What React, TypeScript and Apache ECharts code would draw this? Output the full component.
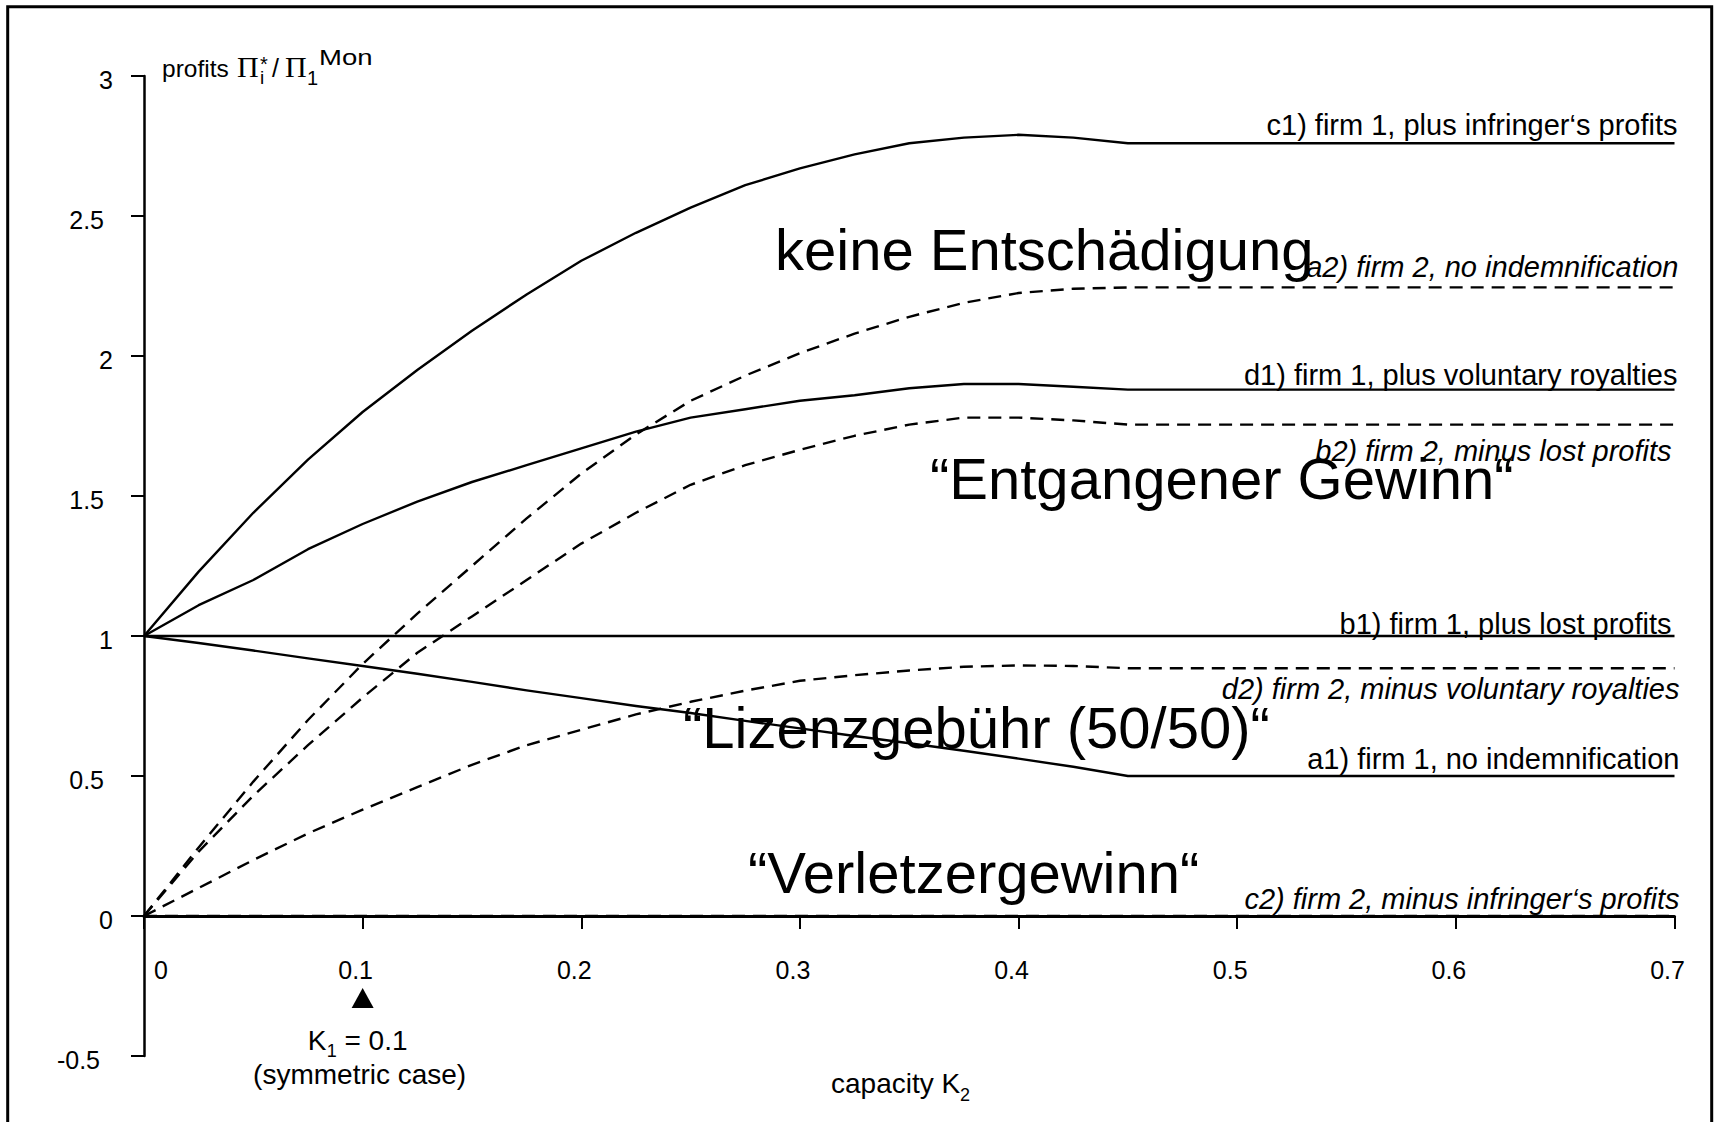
import React, { useEffect, useRef } from 'react';
import * as echarts from 'echarts';

// ---------- data ----------
const K2 = [0, 0.025, 0.05, 0.075, 0.1, 0.125, 0.15, 0.175, 0.2, 0.225, 0.25, 0.275, 0.3, 0.325, 0.35, 0.375, 0.4, 0.425, 0.45, 0.5, 0.55, 0.6, 0.65, 0.7];

const C1 = [1.0, 1.23, 1.44, 1.63, 1.8, 1.95, 2.09, 2.22, 2.34, 2.44, 2.53, 2.61, 2.67, 2.72, 2.76, 2.78, 2.79, 2.78, 2.76, 2.76, 2.76, 2.76, 2.76, 2.76];
const A2 = [0, 0.245, 0.48, 0.7, 0.9, 1.08, 1.25, 1.42, 1.58, 1.72, 1.84, 1.93, 2.01, 2.08, 2.14, 2.19, 2.225, 2.24, 2.245, 2.245, 2.245, 2.245, 2.245, 2.245];
const D1 = [1.0, 1.11, 1.2, 1.31, 1.4, 1.48, 1.55, 1.61, 1.67, 1.73, 1.78, 1.81, 1.84, 1.86, 1.885, 1.9, 1.9, 1.89, 1.88, 1.88, 1.88, 1.88, 1.88, 1.88];
const B2 = [0, 0.23, 0.43, 0.61, 0.78, 0.94, 1.07, 1.2, 1.33, 1.44, 1.54, 1.61, 1.665, 1.715, 1.755, 1.78, 1.78, 1.77, 1.755, 1.755, 1.755, 1.755, 1.755, 1.755];
const B1 = [1, 1, 1, 1, 1, 1, 1, 1, 1, 1, 1, 1, 1, 1, 1, 1, 1, 1, 1, 1, 1, 1, 1, 1];
const D2 = [0, 0.1, 0.2, 0.295, 0.38, 0.46, 0.54, 0.61, 0.665, 0.72, 0.765, 0.805, 0.84, 0.86, 0.877, 0.89, 0.895, 0.893, 0.885, 0.885, 0.885, 0.885, 0.885, 0.885];
const A1 = [1.0, 0.975, 0.948, 0.92, 0.893, 0.865, 0.836, 0.806, 0.778, 0.75, 0.725, 0.697, 0.67, 0.643, 0.617, 0.59, 0.562, 0.533, 0.5, 0.5, 0.5, 0.5, 0.5, 0.5];
const C2 = [0, 0, 0, 0, 0, 0, 0, 0, 0, 0, 0, 0, 0, 0, 0, 0, 0, 0, 0, 0, 0, 0, 0, 0];

const CURVE_NAMES = ['c1', 'a2', 'd1', 'b2', 'b1', 'd2', 'a1', 'c2'];
const CURVE_LABELS = [
  'c1) firm 1, plus infringer\u2018s profits',
  'a2) firm 2, no indemnification',
  'd1) firm 1, plus voluntary royalties',
  'b2) firm 2, minus lost profits',
  'b1) firm 1, plus lost profits',
  'd2) firm 2, minus voluntary royalties',
  'a1) firm 1, no indemnification',
  'c2) firm 2, minus infringer\u2018s profits',
];
const CURVE_VALUES = [C1, A2, D1, B2, B1, D2, A1, C2];
const FIRM2 = [false, true, false, true, false, true, false, true];

const REGION_TEXTS = ['keine Entsch\u00e4digung', '\u201cEntgangener Gewinn\u201c', '\u201cLizenzgeb\u00fchr (50/50)\u201c', '\u201cVerletzergewinn\u201c'];

const X_TICKS = [0, 0.1, 0.2, 0.3, 0.4, 0.5, 0.6, 0.7];
const X_TICK_LABELS = ['0', '0.1', '0.2', '0.3', '0.4', '0.5', '0.6', '0.7'];
const X_MIN = 0, X_MAX = 0.7, X_STEP = 0.1;
const Y_MIN = -0.5, Y_MAX = 3, Y_STEP = 0.5;
const K1 = 0.1;

// ---------- styling ----------
const SANS = '"Liberation Sans", Arial, Helvetica, sans-serif';
const SERIF = '"Liberation Serif", "Times New Roman", serif';
const LABEL_OFFSETS: Record<string, [number, number]> = {
  c1: [3, -18.7], a2: [4, -20.7], d1: [3, -15], b2: [-3, 26.4],
  b1: [-3, -12.4], d2: [5, 21], a1: [5, -17.3], c2: [5, -16.7],
};
const REGION_POS: [number, number][] = [[775, 249], [930, 478], [683, 727], [748, 872]];

function txt(text: string, x: number, y: number, size: number, opts: any = {}) {
  const align = opts.align || 'left';
  const el: any = {
    type: 'text', x, y, z: 20, silent: true,
    style: {
      text, fill: '#000',
      font: `${opts.italic ? 'italic ' : ''}${size}px ${opts.family || SANS}`,
      textAlign: align, textVerticalAlign: 'middle',
      align, verticalAlign: 'middle',
    },
  };
  if (opts.scaleX) el.scaleX = opts.scaleX;
  return el;
}

export default function App() {
  const ref = useRef<HTMLDivElement>(null);
  useEffect(() => {
    const el = ref.current!;
    const chart = echarts.init(el, null, { renderer: 'svg' });
    const tickFont = { fontFamily: SANS, fontSize: 25, color: '#000' };
    chart.setOption({
      animation: false,
      backgroundColor: '#fff',
      grid: { left: 144, right: 40.5, top: 76, bottom: 66, containLabel: false },
      xAxis: {
        type: 'value', min: X_MIN, max: X_MAX, interval: X_STEP,
        axisLine: { show: true, onZero: true, lineStyle: { color: '#000', width: 3 } },
        axisTick: { show: true, length: 13, lineStyle: { color: '#000', width: 2 } },
        splitLine: { show: false },
        axisLabel: { show: false },
      },
      yAxis: {
        type: 'value', min: Y_MIN, max: Y_MAX, interval: Y_STEP,
        axisLine: { show: true, onZero: false, lineStyle: { color: '#000', width: 2.5 } },
        axisTick: { show: true, length: 13, lineStyle: { color: '#000', width: 2 } },
        splitLine: { show: false },
        axisLabel: {
          margin: 31, ...tickFont,
          formatter: (v: number) => {
            const r = Math.round(v * 10) / 10;
            const s = String(r);
            if (r < 0) return `{m|${s}}`;
            return s.indexOf('.') >= 0 ? `{d|${s}}` : `{i|${s}}`;
          },
          rich: {
            i: { ...tickFont, padding: [8, 0, 0, 0] },
            d: { ...tickFont, padding: [8, 9, 0, 0] },
            m: { ...tickFont, padding: [8, 13, 0, 0] },
          },
        },
      },
      series: [
        ...CURVE_NAMES.map((name, idx) => ({
          type: 'line', name, silent: true,
          data: K2.map((k, i) => [k, CURVE_VALUES[idx][i]]),
          symbol: 'none', showSymbol: false,
          smooth: false,
          lineStyle: { color: '#000', width: 2.4, type: FIRM2[idx] ? [13, 8] : 'solid', join: 'round' },
          z: 3,
        })),
        {
          type: 'scatter', silent: true, data: [[K1, 0]],
          symbol: 'triangle', symbolSize: [22, 20], symbolOffset: [0, 82],
          itemStyle: { color: '#000', opacity: 1 }, z: 4,
        },
      ],
    });

    const px = (x: number, y: number) => chart.convertToPixel({ gridIndex: 0 }, [x, y]) as number[];
    const g: any[] = [];
    // frame
    g.push({ type: 'rect', silent: true, z: 1, shape: { x: 7.7, y: 6.7, width: 1704, height: 1200 }, style: { fill: 'none', stroke: '#000', lineWidth: 3 } });
    // x tick labels (below the zero line)
    X_TICKS.forEach((v, i) => {
      const p = px(v, 0);
      g.push(txt(X_TICK_LABELS[i], p[0] + (v === 0 ? 17 : -7), p[1] + 54, 25, { align: 'center' }));
    });
    // curve labels
    CURVE_NAMES.forEach((name, idx) => {
      const vals = CURVE_VALUES[idx];
      const p = px(X_MAX, vals[vals.length - 1]);
      const [dx, dy] = LABEL_OFFSETS[name];
      g.push(txt(CURVE_LABELS[idx], p[0] + dx, p[1] + dy, 29, { align: 'right', italic: FIRM2[idx] }));
    });
    // region texts
    REGION_TEXTS.forEach((t, i) => g.push(txt(t, REGION_POS[i][0], REGION_POS[i][1], 58)));
    // y axis title: profits Πi* / Π1Mon
    g.push(txt('profits', 162, 68, 24.5));
    g.push(txt('\u03a0', 237, 66.5, 30, { family: SERIF }));
    g.push(txt('i', 260, 77.4, 19));
    g.push(txt('*', 260, 64.4, 20));
    g.push(txt('/', 272, 68.3, 25));
    g.push(txt('\u03a0', 285, 66.5, 30, { family: SERIF }));
    g.push(txt('1', 307, 78, 20));
    g.push(txt('Mon', 319, 57.2, 22, { scaleX: 1.25 }));
    // K1 annotation
    const k1 = px(K1, 0);
    g.push(txt('K', k1[0] - 55, 1040, 28));
    g.push(txt('1', k1[0] - 36, 1051, 18));
    g.push(txt(' = 0.1', k1[0] - 26, 1040, 28));
    g.push(txt('(symmetric case)', k1[0] - 3, 1074, 28, { align: 'center' }));
    // x axis title
    g.push(txt('capacity K', 831, 1083, 28));
    g.push(txt('2', 960, 1095, 18));
    chart.setOption({ graphic: g });
    return () => chart.dispose();
  }, []);
  return <div ref={ref} style={{ position: 'fixed', left: 0, top: 0, width: 1715, height: 1122, background: '#fff' }} />;
}
